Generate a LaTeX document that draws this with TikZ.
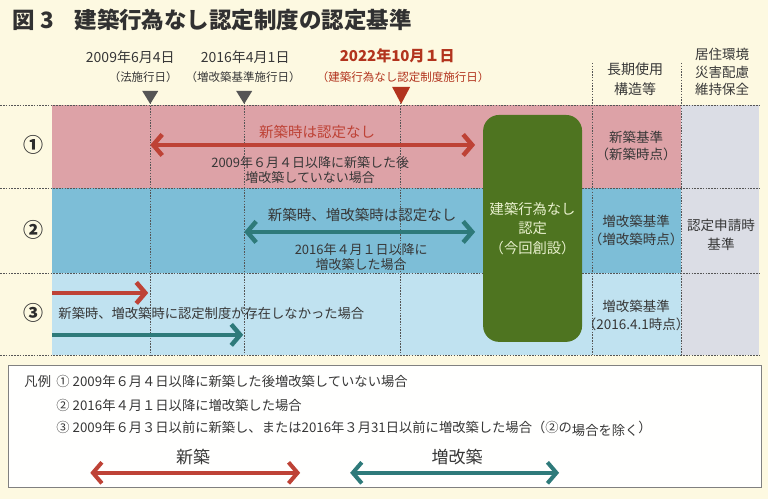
\documentclass[tikz,border=0pt]{standalone}
\usepackage{fontspec}
\setmainfont{Noto Sans CJK JP}
\usetikzlibrary{arrows.meta}
\definecolor{cream}{RGB}{253,249,225}
\definecolor{rowpink}{RGB}{221,162,167}
\definecolor{rowblue}{RGB}{125,190,215}
\definecolor{rowpale}{RGB}{192,226,240}
\definecolor{colgray}{RGB}{219,221,229}
\definecolor{newred}{RGB}{190,66,54}
\definecolor{extteal}{RGB}{46,122,122}
\definecolor{boxgreen}{RGB}{78,116,32}
\definecolor{boxtext}{RGB}{232,240,205}
\definecolor{datered}{RGB}{178,52,30}
\definecolor{inkgray}{RGB}{55,55,55}
\definecolor{gridgray}{RGB}{85,85,85}
\newcommand{\fs}[2]{\fontsize{#1}{#2}\selectfont}
\begin{document}
\begin{tikzpicture}[x=1pt, y=-1pt,
  every node/.style={text=inkgray, font=\fs{13}{16}, inner sep=0pt},
  grid/.style={gridgray, line width=0.6pt, dash pattern=on 1.5pt off 1.3pt},
  chev/.tip={Straight Barb[length=9pt, width=21pt]},
  newarrow/.style={newred, line width=4.5pt},
  extarrow/.style={extteal, line width=4.5pt},
  cell/.style={align=center, font=\fs{13.5}{18}}]
  % Background
  \fill[cream] (0,0) rectangle (768,499);
  % Title
  \node[anchor=west, text=inkgray!90!black, font=\fs{22.5}{26}\bfseries] (title) at (12,20)
    {図\hspace{0.25em}3\hspace{0.9em}建築行為なし認定制度の認定基準};
  % Row bands
  \fill[rowpink] (52,105) rectangle (681,188);
  \fill[rowblue] (52,188) rectangle (681,273);
  \fill[rowpale] (52,273) rectangle (681,355);
  \fill[colgray] (681,105) rectangle (759,355);
  % Grid
  \foreach \y in {105,188,273,355}
    \draw[grid] (0,\y) -- (760,\y);
  \foreach \x in {150,244,400}
    \draw[grid] (\x,100) -- (\x,355);
  \foreach \x in {592,681}
    \draw[grid] (\x,63) -- (\x,355);
  % Dates
  \node[font=\fs{14}{16}] (date1) at (130,57) {2009年6月4日};
  \node[font=\fs{11.5}{14}] (note1) at (143,77) {（法施行日）};
  \node[font=\fs{14}{16}] (date2) at (245,57) {2016年4月1日};
  \node[font=\fs{11.5}{14}] (note2) at (243,77) {（増改築基準施行日）};
  \node[text=datered, font=\fs{15}{18}\bfseries] (date3) at (397,56) {2022年10月１日};
  \node[text=datered, font=\fs{11.5}{14}] (note3) at (403,77) {（建築行為なし認定制度施行日）};
  \foreach \x in {150,244}
    \fill[gridgray] (\x-8,91) -- (\x+8,91) -- (\x,104) -- cycle;
  \fill[datered] (392,87) -- (410,87) -- (401,104) -- cycle;
  % Column heads
  \node[cell, font=\fs{14}{20}] (head1) at (635,79) {長期使用\\構造等};
  \node[cell, font=\fs{13.5}{17.5}] (head2) at (722,72) {居住環境\\災害配慮\\維持保全};
  % Row numbers
  \foreach \y/\n in {145/①, 230/②, 313/③}
    \node[font=\fs{20}{22}\bfseries, text=inkgray!80!black] at (33,\y) {\n};
  % Row 1
  \coordinate (r1a) at (150,145);
  \coordinate (r1b) at (475,145);
  \draw[newarrow, chev-chev] (r1a) -- (r1b);
  \node[text=newred, font=\fs{14.5}{16}] (r1top) at (317,132) {新築時は認定なし};
  \node[align=center, font=\fs{13}{15.5}] (r1txt) at (310,170)
    {2009年６月４日以降に新築した後\\増改築していない場合};
  % Row 2
  \coordinate (r2a) at (244,232);
  \coordinate (r2b) at (475,232);
  \draw[extarrow, chev-chev] (r2a) -- (r2b);
  \node[font=\fs{14.5}{16}] (r2top) at (362,215) {新築時、増改築時は認定なし};
  \node[align=center, font=\fs{13}{15.5}] (r2txt) at (361,257)
    {2016年４月１日以降に\\増改築した場合};
  % Row 3
  \coordinate (r3a) at (52,293);
  \coordinate (r3b) at (148,293);
  \coordinate (r3c) at (52,335);
  \coordinate (r3d) at (243,335);
  \draw[newarrow, -chev] (r3a) -- (r3b);
  \draw[extarrow, -chev] (r3c) -- (r3d);
  \node[anchor=west, font=\fs{13.3}{16}] (r3txt) at (58,314)
    {新築時、増改築時に認定制度が存在しなかった場合};
  % New certification
  \node[fill=boxgreen, rounded corners=16pt, minimum width=99pt, minimum height=227pt,
        align=center, text=boxtext, font=\fs{14.3}{19.5}] (newcert) at (532.5,228.5)
    {建築行為なし\\認定\\（今回創設）};
  % Standard cells
  \node[cell] (std1) at (636,146) {新築基準\\（新築時点）};
  \node[cell] (std2) at (636,231) {増改築基準\\（増改築時点）};
  \node[cell] (std3) at (636,316) {増改築基準\\（2016.4.1時点）};
  \node[cell, font=\fs{13.6}{19}] (std4) at (721,235) {認定申請時\\基準};
  % Legend
  \draw[gray, line width=0.9pt, fill=white!97!cream] (8,366) rectangle (761,488);
  \node[anchor=west, font=\fs{13.3}{16}] (legend) at (24,382) {凡例};
  \node[anchor=west, font=\fs{13.3}{16}] (leg1) at (56,382)
    {① 2009年６月４日以降に新築した後増改築していない場合};
  \node[anchor=west, font=\fs{13.3}{16}] (leg2) at (56,406)
    {② 2016年４月１日以降に増改築した場合};
  \node[anchor=west, font=\fs{13.3}{16}] (leg3) at (56,429)
    {③ 2009年６月３日以前に新築し、または2016年３月31日以前に増改築した場合（②の\raisebox{-2.5pt}{場合を除く}）};
  \coordinate (la) at (90,473);
  \coordinate (lb) at (300,473);
  \coordinate (lc) at (350,473);
  \coordinate (ld) at (559,473);
  \draw[newarrow, line width=4pt, chev-chev] (la) -- (lb);
  \draw[extarrow, line width=4pt, chev-chev] (lc) -- (ld);
  \node[font=\fs{17}{19}] (legnew) at (193,457) {新築};
  \node[font=\fs{17}{19}] (legext) at (457,457) {増改築};
\end{tikzpicture}
\end{document}
